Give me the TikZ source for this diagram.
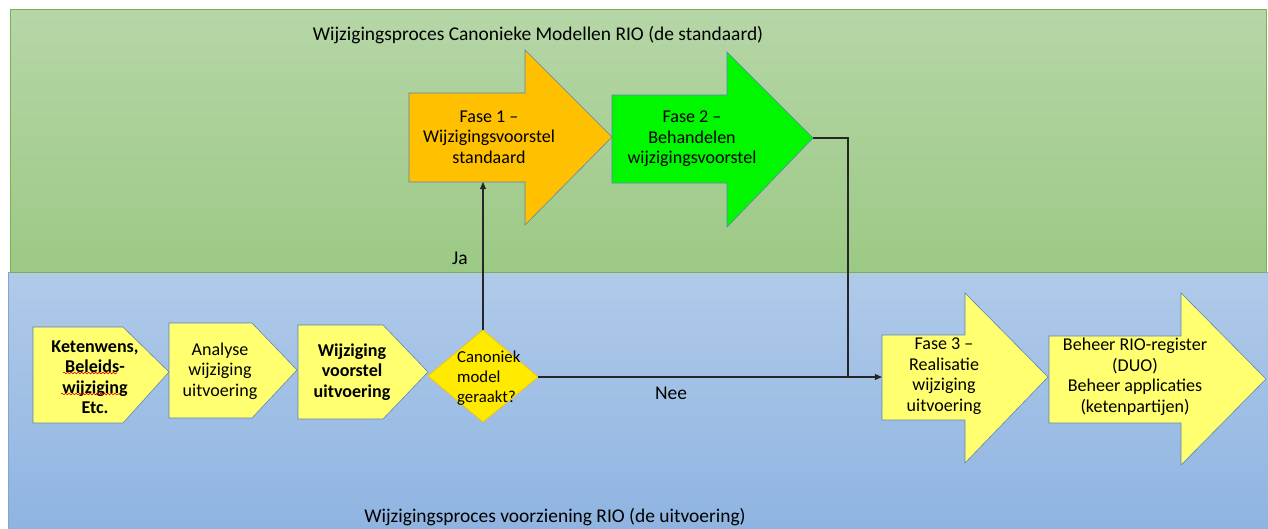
\documentclass[tikz,border=0pt]{standalone}
\usepackage{fontspec}
\setmainfont{Carlito}
\usetikzlibrary{arrows.meta,decorations.pathmorphing}
\tikzset{
  shapeline/.style={draw=edgeblue,line width=0.5pt},
  boxtext/.style={align=center,inner sep=0pt,font=\fontsize{15.4}{17.5}\selectfont},
  boldtext/.style={boxtext,font=\bfseries\fontsize{15.4}{17.5}\selectfont},
  diatext/.style={align=left,inner sep=0pt,font=\fontsize{14.3}{17.2}\selectfont},
  lanetext/.style={inner sep=0pt,font=\fontsize{16.6}{19}\selectfont},
  flow/.style={line width=0.9pt,draw=black!85},
  spell/.style={draw=red!85!black,line width=0.5pt,decorate,decoration={snake,segment length=3pt,amplitude=0.7pt}}
}
\begin{document}
\begin{tikzpicture}[x=0.03cm,y=-0.03cm]
\definecolor{greentop}{HTML}{B6D6A7}
\definecolor{greenbot}{HTML}{9CC985}
\definecolor{greenedge}{HTML}{78B152}
\definecolor{bluetop}{HTML}{B0CAE9}
\definecolor{bluebot}{HTML}{8FB4E1}
\definecolor{blueedge}{HTML}{7FA6D6}
\definecolor{edgeblue}{HTML}{5B84B1}
\definecolor{fase1col}{HTML}{FFC000}
\definecolor{fase2col}{HTML}{00F700}
\definecolor{paleyellow}{HTML}{FFFF70}
\definecolor{diayellow}{HTML}{FFEA00}
\definecolor{diaedge}{HTML}{F5C400}
\useasboundingbox (0,0) rectangle (1268,528);
\shade[top color=greentop,bottom color=greenbot,draw=greenedge,line width=0.6pt] (10,9) rectangle (1266,272);
\shade[top color=bluetop,bottom color=bluebot,draw=blueedge,line width=0.5pt] (8,272) rectangle (1268,530);
\draw[greenedge,line width=0.6pt] (10,272) -- (1266,272);
\coordinate[] (A1) at (409,93);
\coordinate[] (A2) at (525,93);
\coordinate[] (A3) at (525,50);
\coordinate[] (A4) at (612,137);
\coordinate[] (A5) at (525,225);
\coordinate[] (A6) at (525,182);
\coordinate[] (A7) at (409,182);
\coordinate[] (B1) at (612,95);
\coordinate[] (B2) at (727,95);
\coordinate[] (B3) at (727,52);
\coordinate[] (B4) at (813,138);
\coordinate[] (B5) at (727,227);
\coordinate[] (B6) at (727,183);
\coordinate[] (B7) at (612,183);
\coordinate[] (C1) at (882,335);
\coordinate[] (C2) at (965,335);
\coordinate[] (C3) at (965,293);
\coordinate[] (C4) at (1048,377);
\coordinate[] (C5) at (965,463);
\coordinate[] (C6) at (965,420);
\coordinate[] (C7) at (882,420);
\coordinate[] (D1) at (1049,336);
\coordinate[] (D2) at (1181,336);
\coordinate[] (D3) at (1181,293);
\coordinate[] (D4) at (1266,379);
\coordinate[] (D5) at (1181,465);
\coordinate[] (D6) at (1181,423);
\coordinate[] (D7) at (1049,423);
\coordinate[] (E1) at (33,327);
\coordinate[] (E2) at (123,327);
\coordinate[] (E3) at (169,372);
\coordinate[] (E4) at (123,423);
\coordinate[] (E5) at (33,423);
\coordinate[] (F1) at (169,323);
\coordinate[] (F2) at (252,323);
\coordinate[] (F3) at (297,370);
\coordinate[] (F4) at (252,418);
\coordinate[] (F5) at (169,418);
\coordinate[] (G1) at (298,325);
\coordinate[] (G2) at (383,325);
\coordinate[] (G3) at (428,372);
\coordinate[] (G4) at (383,419);
\coordinate[] (G5) at (298,419);
\coordinate[] (H1) at (483,330);
\coordinate[] (H2) at (538,377);
\coordinate[] (H3) at (483,422);
\coordinate[] (H4) at (428,376);
\coordinate[] (K1) at (483,182);
\coordinate[] (K2) at (848,138);
\coordinate[] (K3) at (882,377);
\draw[shapeline,fill=fase1col] (A1)--(A2)--(A3)--(A4)--(A5)--(A6)--(A7)--cycle;
\draw[shapeline,fill=fase2col] (B1)--(B2)--(B3)--(B4)--(B5)--(B6)--(B7)--cycle;
\draw[shapeline,fill=paleyellow] (C1)--(C2)--(C3)--(C4)--(C5)--(C6)--(C7)--cycle;
\draw[shapeline,fill=paleyellow] (D1)--(D2)--(D3)--(D4)--(D5)--(D6)--(D7)--cycle;
\draw[shapeline,fill=paleyellow] (E1)--(E2)--(E3)--(E4)--(E5)--cycle;
\draw[shapeline,fill=paleyellow] (F1)--(F2)--(F3)--(F4)--(F5)--cycle;
\draw[shapeline,fill=paleyellow] (G1)--(G2)--(G3)--(G4)--(G5)--cycle;
\draw[draw=diaedge,line width=0.6pt,fill=diayellow] (H1)--(H2)--(H3)--(H4)--cycle;
\draw[flow,-{Triangle[length=6pt,width=5pt]}] (H1) -- (K1);
\draw[flow] (B4) -- (K2) -- (K2|-K3);
\draw[flow,-{Triangle[length=6pt,width=5pt]}] (H2) -- (K3);
\node[lanetext] (titlegreen) at (538,35) {Wijzigingsproces Canonieke Modellen RIO (de standaard)};
\node[lanetext] (titleblue) at (555,517) {Wijzigingsproces voorziening RIO (de uitvoering)};
\node[boxtext] (fase1) at (489,137) {Fase 1 –\\Wijzigingsvoorstel\\standaard};
\node[boxtext] (fase2) at (692,139) {Fase 2 –\\Behandelen\\wijzigingsvoorstel};
\node[boxtext] (fase3) at (944,376) {Fase 3 –\\Realisatie\\wijziging\\uitvoering};
\node[boxtext] (beheer) at (1135,377) {Beheer RIO-register\\(DUO)\\Beheer applicaties\\(ketenpartijen)};
\node[boldtext] (ketenwens) at (95,377) {Ketenwens,\\Beleids-\\wijziging\\Etc.};
\node[boxtext] (analyse) at (220,371) {Analyse\\wijziging\\uitvoering};
\node[boldtext] (voorstel) at (352,372) {Wijziging\\voorstel\\uitvoering};
\node[diatext,anchor=west] (canoniek) at (457,378) {Canoniek\\model\\geraakt?};
\node[lanetext] (ja) at (460,258) {Ja};
\node[lanetext] (nee) at (671,393) {Nee};
\draw[spell] (63,373) -- (117,373);
\draw[spell] (61,394) -- (119,394);
\end{tikzpicture}
\end{document}
